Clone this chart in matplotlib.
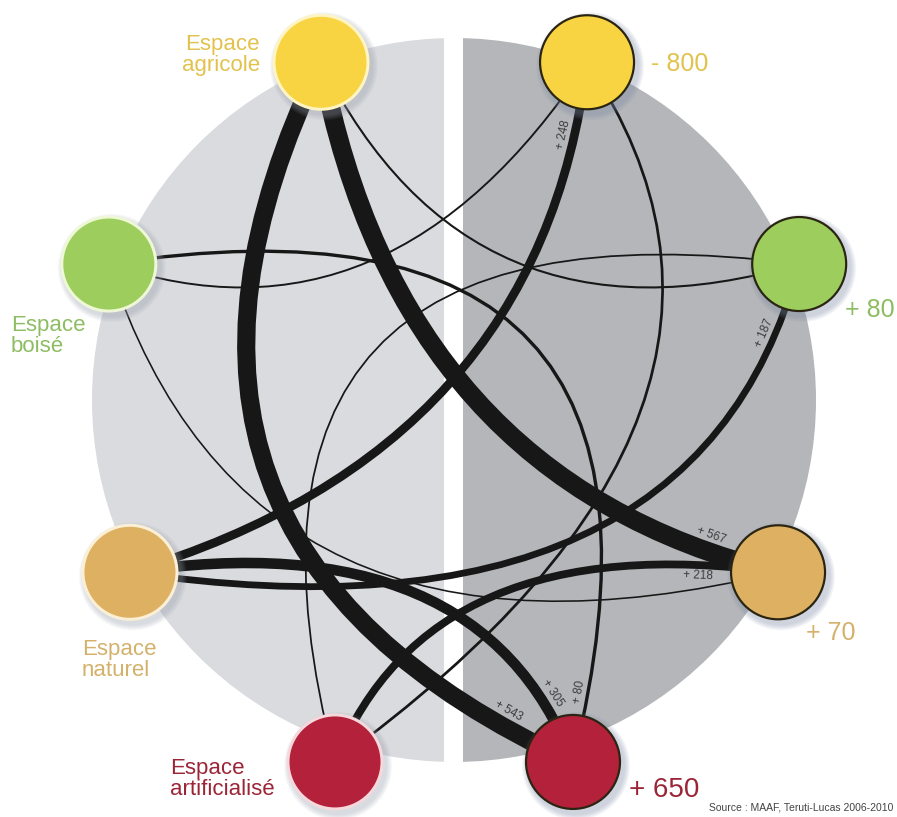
import numpy as np
import matplotlib
matplotlib.use('Agg')
import matplotlib.pyplot as plt
from matplotlib.path import Path
from matplotlib.patches import PathPatch, Circle, Wedge, Rectangle

plt.rcParams['font.family'] = ['Liberation Sans', 'DejaVu Sans']

## data
categories = ['agricole', 'boise', 'naturel', 'artificialise']
cat_labels = ['Espace\nagricole', 'Espace\nboisé', 'Espace\nnaturel', 'Espace\nartificialisé']
net_labels = ['- 800', '+ 80', '+ 70', '+ 650']

# flows between spaces (left node -> right node); unlabeled thin ones are estimated
flow_src = ['agricole', 'agricole', 'agricole', 'boise', 'boise', 'boise',
            'naturel', 'naturel', 'naturel', 'artificialise', 'artificialise', 'artificialise']
flow_dst = ['naturel', 'artificialise', 'boise', 'agricole', 'artificialise', 'naturel',
            'agricole', 'artificialise', 'boise', 'naturel', 'boise', 'agricole']
flow_val = [567, 543, 40, 35, 80, 25, 248, 305, 187, 218, 30, 60]
flow_txt = ['+ 567', '+ 543', '', '', '+ 80', '', '+ 248', '+ 305', '+ 187', '+ 218', '', '']

source_txt = 'Source : MAAF, Teruti-Lucas 2006-2010'

## layout / style
W, H = 897, 817
CX, CY, R = 454, 400, 362          # background disc (pixels)
NODE_R = 47
PX = 0.72                          # points per pixel at dpi 100
node_ang = {'agricole': 68.5, 'boise': 21.5, 'naturel': -28, 'artificialise': -71.8}
node_rad = {'agricole': 363, 'boise': 371, 'naturel': 367, 'artificialise': 381}
node_col = {'agricole': '#f8d443', 'boise': '#9dcd5c', 'naturel': '#deb062', 'artificialise': '#b3213a'}
node_rim = {'agricole': '#fff5c4', 'boise': '#eef8d6', 'naturel': '#fbf0d6', 'artificialise': '#f5d8dc'}
text_col = {'agricole': '#e2c24c', 'boise': '#8dbd62', 'naturel': '#d4b16b', 'artificialise': '#9b2537'}
# control point of each curve, in disc-radius units around the centre
flow_bend = [(-0.149, -0.221), (-1.006, -0.387), (0.044, 0.110), (-0.177, 0.110),
             (0.735, 0.635), (-0.564, -0.829), (0.238, -0.138), (0.072, -0.331),
             (0.666, -0.704), (-0.066, -0.345), (-0.743, 0.594), (1.011, -0.028)]
label_t = [0.9, 0.92, 0, 0, 0.94, 0, 0.9, 0.86, 0.9, 0.88, 0, 0]
label_side = [1, 1, 0, 0, -1, 0, 1, 1, 1, -1, 0, 0]


def node_xy(cat, side):
    """pixel centre of a node, side=-1 for left column, +1 for right"""
    a = np.radians(node_ang[cat])
    return np.array([CX + side * node_rad[cat] * np.cos(a), CY - node_rad[cat] * np.sin(a)])


def width_px(v):
    return 0.032 * v + 0.8


def bez(p0, c, p2, t):
    return (1 - t) ** 2 * p0 + 2 * (1 - t) * t * c + t ** 2 * p2


def bez_d(p0, c, p2, t):
    return 2 * (1 - t) * (c - p0) + 2 * t * (p2 - c)


fig = plt.figure(figsize=(W / 100, H / 100), dpi=100)
ax = fig.add_axes([0, 0, 1, 1])
ax.set_xlim(0, W)
ax.set_ylim(H, 0)
ax.axis('off')

# background halves and white gap
ax.add_patch(Wedge((CX, CY), R, 90, 270, facecolor='#d9dbde', edgecolor='none', zorder=1))
ax.add_patch(Wedge((CX, CY), R, -90, 90, facecolor='#b4b6b9', edgecolor='none', zorder=1))
ax.add_patch(Rectangle((444, 0), 19, H, facecolor='white', edgecolor='none', zorder=1.5))

# flow curves
for i in range(len(flow_val)):
    p0 = node_xy(flow_src[i], -1)
    p2 = node_xy(flow_dst[i], 1)
    c = np.array([CX + flow_bend[i][0] * R, CY - flow_bend[i][1] * R])
    w = width_px(flow_val[i])
    path = Path([p0, c, p2], [Path.MOVETO, Path.CURVE3, Path.CURVE3])
    ax.add_patch(PathPatch(path, fill=False, edgecolor='#171717', lw=w * PX,
                           capstyle='butt', zorder=2))
    if flow_txt[i]:
        t = label_t[i]
        pt = bez(p0, c, p2, t)
        d = bez_d(p0, c, p2, t)
        d = d / np.hypot(*d)
        ang = np.degrees(np.arctan2(-d[1], d[0]))
        if ang > 90:
            ang -= 180
        elif ang <= -90:
            ang += 180
        nrm = np.array([d[1], -d[0]])
        pos = pt + label_side[i] * nrm * (w / 2 + 7)
        ax.text(pos[0], pos[1], flow_txt[i], fontsize=8.5, color='#3c3c3c', rotation=ang,
                rotation_mode='anchor', ha='center', va='center', zorder=3)

# nodes
for cat in categories:
    for side in (-1, 1):
        x, y = node_xy(cat, side)
        shadow = '#7d8aa6' if side == 1 else '#9aa0ad'
        for k in range(6):
            ax.add_patch(Circle((x + 3, y + 4), NODE_R + 7 - k, facecolor=shadow,
                                edgecolor='none', alpha=0.07, zorder=4))
        if side == -1:
            ax.add_patch(Circle((x, y), NODE_R, facecolor=node_col[cat], edgecolor=node_rim[cat],
                                lw=3 * PX, zorder=5))
        else:
            ax.add_patch(Circle((x, y), NODE_R, facecolor=node_col[cat], edgecolor='#2a2412',
                                lw=2.2 * PX, zorder=5))

# category labels (left) and net changes (right)
lab_pos = {'agricole': (260, 55, 'right'), 'boise': (11, 336, 'left'),
           'naturel': (82, 660, 'left'), 'artificialise': (170, 779, 'left')}
net_pos = {'agricole': (651, 64), 'boise': (845, 310), 'naturel': (806, 633), 'artificialise': (629, 790)}
net_size = {'agricole': 18, 'boise': 18, 'naturel': 18, 'artificialise': 20}
for cat, lab, net in zip(categories, cat_labels, net_labels):
    lx, ly, ha = lab_pos[cat]
    ax.text(lx, ly, lab, fontsize=16, color=text_col[cat], ha=ha, va='center',
            linespacing=1.05, zorder=6)
    nx, ny = net_pos[cat]
    ax.text(nx, ny, net, fontsize=net_size[cat], color=text_col[cat], ha='left',
            va='center', zorder=6)

ax.text(893, 808, source_txt, fontsize=7.5, color='#444444', ha='right', va='center', zorder=6)

fig.savefig('out.png', dpi=100)
